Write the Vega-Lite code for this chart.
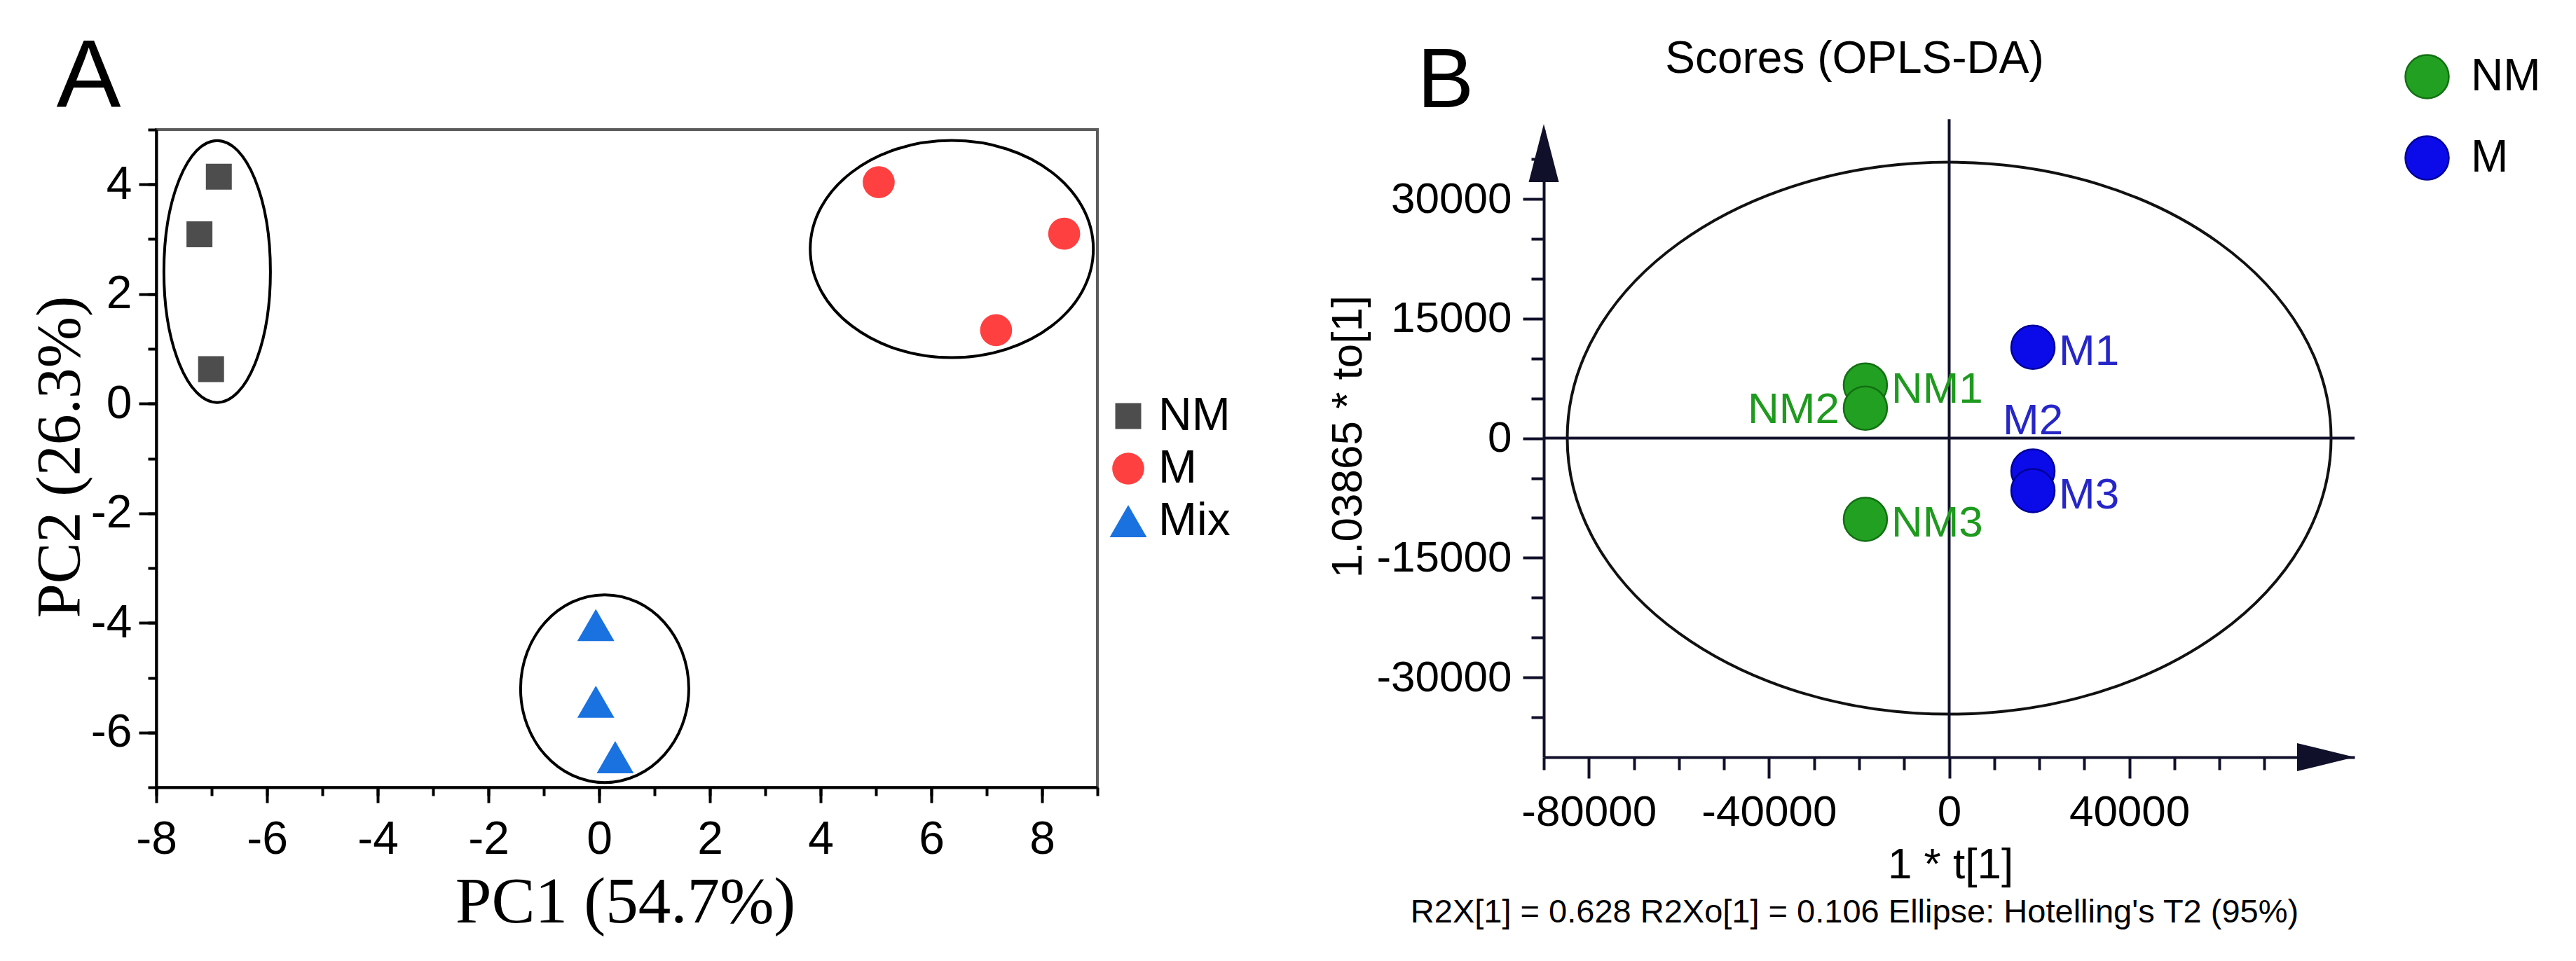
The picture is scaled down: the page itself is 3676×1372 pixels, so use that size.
{
  "$schema": "https://vega.github.io/schema/vega-lite/v6.json",
  "background": "white",
  "autosize": {"type": "pad"},
  "padding": {"left": 40, "top": 40, "right": 0, "bottom": 0},
  "bounds": "flush",
  "spacing": 637,
  "config": {"view": {"stroke": null}, "axis": {"grid": false, "labelLimit": 0}},
  "datasets": {
    "pointsA": [
      {"group": "NM", "PC1": -6.87, "PC2": 4.14},
      {"group": "NM", "PC1": -7.22, "PC2": 3.09},
      {"group": "NM", "PC1": -7.01, "PC2": 0.63},
      {"group": "M", "PC1": 5.05, "PC2": 4.04},
      {"group": "M", "PC1": 8.40, "PC2": 3.10},
      {"group": "M", "PC1": 7.17, "PC2": 1.34},
      {"group": "Mix", "PC1": -0.06, "PC2": -4.04},
      {"group": "Mix", "PC1": -0.06, "PC2": -5.44},
      {"group": "Mix", "PC1": 0.29, "PC2": -6.45}
    ],
    "ellipsesA": [
      {"group": "NM", "PC1": -6.90, "PC2": 2.41},
      {"group": "M", "PC1": 6.37, "PC2": 2.82},
      {"group": "Mix", "PC1": 0.10, "PC2": -5.2}
    ],
    "pointsB": [
      {"sample": "NM1", "group": "NM", "t": -18600, "to": 6670},
      {"sample": "NM2", "group": "NM", "t": -18600, "to": 3770},
      {"sample": "NM3", "group": "NM", "t": -18600, "to": -10180},
      {"sample": "M1", "group": "M", "t": 18600, "to": 11400},
      {"sample": "M2", "group": "M", "t": 18600, "to": -4120},
      {"sample": "M3", "group": "M", "t": 18600, "to": -6580}
    ]
  },
  "resolve": {"scale": {"color": "independent", "shape": "independent", "size": "independent", "fill": "independent", "stroke": "independent"}},
  "hconcat": [
    {
      "width": 1343,
      "height": 939,
      "view": {"stroke": "#5c5c5c", "strokeWidth": 4},
      "resolve": {"axis": {"x": "independent", "y": "independent"}},
      "layer": [
        {
          "data": {"name": "ellipsesA"},
          "transform": [{"filter": "datum.group === 'NM'"}],
          "mark": {"type": "point", "shape": "M0.76,0C0.76,1.0328,0.4197,1.87,0,1.87C-0.4197,1.87,-0.76,1.0328,-0.76,0C-0.76,-1.0328,-0.4197,-1.87,0,-1.87C0.4197,-1.87,0.76,-1.0328,0.76,0Z", "size": 40000, "filled": false, "color": "black", "strokeWidth": 4, "opacity": 1},
          "encoding": {
            "x": {"field": "PC1", "type": "quantitative", "scale": {"domain": [-8, 9], "nice": false, "zero": false},
              "axis": {"orient": "bottom", "values": [-8, -6, -4, -2, 0, 2, 4, 6, 8], "tickSize": 22, "tickWidth": 4, "tickColor": "black", "domainColor": "black", "domainWidth": 4, "labelFont": "Liberation Sans", "labelFontSize": 66, "labelColor": "black", "labelPadding": 20, "labelExpr": "'' + datum.value", "labelFlush": false, "labelOverlap": false,
                "title": "PC1 (54.7%)", "titleFont": "Liberation Serif", "titleFontSize": 93, "titleFontWeight": "normal", "titleColor": "black", "titleX": 669, "titleY": 192, "titleAlign": "center", "titleBaseline": "alphabetic"}},
            "y": {"field": "PC2", "type": "quantitative", "scale": {"domain": [-7, 5], "nice": false, "zero": false},
              "axis": {"orient": "left", "values": [-6, -4, -2, 0, 2, 4], "tickSize": 25, "tickWidth": 4, "tickColor": "black", "domainColor": "black", "domainWidth": 4, "labelFont": "Liberation Sans", "labelFontSize": 66, "labelColor": "black", "labelPadding": 10, "labelExpr": "'' + datum.value", "labelFlush": false, "labelOverlap": false,
                "title": "PC2 (26.3%)", "titleFont": "Liberation Serif", "titleFontSize": 88, "titleFontWeight": "normal", "titleColor": "black", "titleX": -111, "titleY": 467, "titleAngle": 270, "titleAlign": "center", "titleBaseline": "alphabetic"}}
          }
        },
        {
          "data": {"name": "ellipsesA"},
          "transform": [{"filter": "datum.group === 'M'"}],
          "mark": {"type": "point", "shape": "M2.02,0C2.02,0.8561,1.1156,1.55,0,1.55C-1.1156,1.55,-2.02,0.8561,-2.02,0C-2.02,-0.8561,-1.1156,-1.55,0,-1.55C1.1156,-1.55,2.02,-0.8561,2.02,0Z", "size": 40000, "filled": false, "color": "black", "strokeWidth": 4, "opacity": 1},
          "encoding": {
            "x": {"field": "PC1", "type": "quantitative", "scale": {"domain": [-8, 9], "nice": false, "zero": false},
              "axis": {"orient": "bottom", "values": [-8, -7, -6, -5, -4, -3, -2, -1, 0, 1, 2, 3, 4, 5, 6, 7, 8, 9], "tickSize": 12, "tickWidth": 4, "tickColor": "black", "domain": false, "labels": false, "title": null}},
            "y": {"field": "PC2", "type": "quantitative", "scale": {"domain": [-7, 5], "nice": false, "zero": false},
              "axis": {"orient": "left", "values": [-7, -6, -5, -4, -3, -2, -1, 0, 1, 2, 3, 4, 5], "tickSize": 12, "tickWidth": 4, "tickColor": "black", "domain": false, "labels": false, "title": null}}
          }
        },
        {
          "data": {"name": "ellipsesA"},
          "transform": [{"filter": "datum.group === 'Mix'"}],
          "mark": {"type": "point", "shape": "M1.2,0C1.2,0.7401,0.6628,1.34,0,1.34C-0.6628,1.34,-1.2,0.7401,-1.2,0C-1.2,-0.7401,-0.6628,-1.34,0,-1.34C0.6628,-1.34,1.2,-0.7401,1.2,0Z", "size": 40000, "filled": false, "color": "black", "strokeWidth": 4, "opacity": 1},
          "encoding": {
            "x": {"field": "PC1", "type": "quantitative", "scale": {"domain": [-8, 9], "nice": false, "zero": false},
              "axis": {"orient": "top", "domain": false, "ticks": false, "labels": false, "title": "A", "titleFont": "Liberation Sans", "titleFontSize": 138, "titleFontWeight": "normal", "titleColor": "black", "titleX": -143, "titleY": -33, "titleAngle": 0, "titleAlign": "left", "titleBaseline": "alphabetic"}},
            "y": {"field": "PC2", "type": "quantitative", "scale": {"domain": [-7, 5], "nice": false, "zero": false}, "axis": null}
          }
        },
        {
          "data": {"name": "pointsA"},
          "mark": {"type": "point", "filled": true, "opacity": 1, "strokeWidth": 0},
          "encoding": {
            "x": {"field": "PC1", "type": "quantitative", "scale": {"domain": [-8, 9], "nice": false, "zero": false}, "axis": null},
            "y": {"field": "PC2", "type": "quantitative", "scale": {"domain": [-7, 5], "nice": false, "zero": false}, "axis": null},
            "color": {"field": "group", "type": "nominal", "scale": {"domain": ["NM", "M", "Mix"], "range": ["#4d4d4d", "#ff4040", "#1a72e0"]},
              "legend": {"orient": "none", "legendX": 1354, "legendY": 376, "title": null, "labelFont": "Liberation Sans", "labelFontSize": 66, "labelColor": "black", "labelOffset": 10, "rowPadding": 9, "padding": 0}},
            "shape": {"field": "group", "type": "nominal", "scale": {"domain": ["NM", "M", "Mix"], "range": ["square", "circle", "triangle-up"]}},
            "size": {"field": "group", "type": "nominal", "scale": {"type": "point", "domain": ["NM", "M", "Mix"], "range": [1369, 2800]}}
          }
        }
      ]
    },
    {
      "width": 1157,
      "height": 896,
      "resolve": {"axis": {"x": "independent", "y": "independent"}},
      "layer": [
        {
          "data": {"values": [{"t": 0, "to": 0}]},
          "mark": {"type": "point", "shape": "M5.45,0C5.45,2.176,3.01,3.94,0,3.94C-3.01,3.94,-5.45,2.176,-5.45,0C-5.45,-2.176,-3.01,-3.94,0,-3.94C3.01,-3.94,5.45,-2.176,5.45,0Z", "size": 40000, "filled": false, "color": "#111111", "strokeWidth": 4, "opacity": 1},
          "encoding": {
            "x": {"field": "t", "type": "quantitative", "scale": {"domain": [-90000, 90000], "nice": false, "zero": false},
              "axis": {"orient": "bottom", "values": [-80000, -40000, 0, 40000], "tickSize": 30, "tickWidth": 4, "tickColor": "#10102a", "domainColor": "#10102a", "domainWidth": 4, "labelFont": "Liberation Sans", "labelFontSize": 62, "labelColor": "black", "labelPadding": 18, "labelExpr": "'' + datum.value", "labelFlush": false, "labelOverlap": false, "labelLimit": 0,
                "title": "1 * t[1]", "titleFont": "Liberation Sans", "titleFontSize": 62, "titleFontWeight": "normal", "titleColor": "black", "titleX": 580, "titleY": 172, "titleAlign": "center", "titleBaseline": "alphabetic"}},
            "y": {"field": "to", "type": "quantitative", "scale": {"domain": [-40000, 38700], "nice": false, "zero": false},
              "axis": {"orient": "left", "values": [-30000, -15000, 0, 15000, 30000], "tickSize": 30, "tickWidth": 4, "tickColor": "#10102a", "domainColor": "#10102a", "domainWidth": 4, "labelFont": "Liberation Sans", "labelFontSize": 62, "labelColor": "black", "labelPadding": 16, "labelExpr": "'' + datum.value", "labelFlush": false, "labelOverlap": false, "labelLimit": 0,
                "title": "1.03865 * to[1]", "titleFont": "Liberation Sans", "titleFontSize": 62, "titleFontWeight": "normal", "titleColor": "black", "titleX": -261, "titleY": 438, "titleAngle": 270, "titleAlign": "center", "titleBaseline": "alphabetic"}}
          }
        },
        {
          "data": {"values": [{"t": 0, "to": -40000, "to2": 40000}]},
          "mark": {"type": "rule", "color": "#10102a", "strokeWidth": 4},
          "encoding": {
            "x": {"field": "t", "type": "quantitative", "scale": {"domain": [-90000, 90000], "nice": false, "zero": false},
              "axis": {"orient": "bottom", "values": [-90000, -70000, -60000, -50000, -30000, -20000, -10000, 10000, 20000, 30000, 50000, 60000, 70000], "tickSize": 18, "tickWidth": 4, "tickColor": "#10102a", "domain": false, "labels": false, "title": null}},
            "y": {"field": "to", "type": "quantitative", "scale": {"domain": [-40000, 38700], "nice": false, "zero": false},
              "axis": {"orient": "left", "values": [-35000, -25000, -20000, -10000, -5000, 5000, 10000, 20000, 25000, 35000], "tickSize": 18, "tickWidth": 4, "tickColor": "#10102a", "domain": false, "labels": false, "title": null}},
            "y2": {"field": "to2"}
          }
        },
        {
          "data": {"values": [{"t": -90000, "t2": 90000, "to": 0}]},
          "mark": {"type": "rule", "color": "#10102a", "strokeWidth": 4},
          "encoding": {
            "x": {"field": "t", "type": "quantitative", "scale": {"domain": [-90000, 90000], "nice": false, "zero": false},
              "axis": {"orient": "top", "domain": false, "ticks": false, "labels": false, "title": "B", "titleFont": "Liberation Sans", "titleFontSize": 121, "titleFontWeight": "normal", "titleColor": "black", "titleX": -181, "titleY": -33, "titleAngle": 0, "titleAlign": "left", "titleBaseline": "alphabetic"}},
            "x2": {"field": "t2"},
            "y": {"field": "to", "type": "quantitative", "scale": {"domain": [-40000, 38700], "nice": false, "zero": false}, "axis": null}
          }
        },
        {
          "data": {"values": [{"t": -90000, "to": 39400}]},
          "mark": {"type": "point", "shape": "M0,0L0.215,0.83L-0.215,0.83Z", "size": 40000, "filled": true, "color": "#10102a", "opacity": 1, "strokeWidth": 0},
          "encoding": {
            "x": {"field": "t", "type": "quantitative", "scale": {"domain": [-90000, 90000], "nice": false, "zero": false},
              "axis": {"orient": "top", "domain": false, "ticks": false, "labels": false, "title": "Scores (OPLS-DA)", "titleFont": "Liberation Sans", "titleFontSize": 64, "titleFontWeight": "normal", "titleColor": "black", "titleX": 443, "titleY": -82, "titleAngle": 0, "titleAlign": "center", "titleBaseline": "alphabetic"}},
            "y": {"field": "to", "type": "quantitative", "scale": {"domain": [-40000, 38700], "nice": false, "zero": false}, "axis": null}
          }
        },
        {
          "data": {"values": [{"t": 90000, "to": -40000}]},
          "mark": {"type": "point", "shape": "M0,0L-0.82,-0.2L-0.82,0.2Z", "size": 40000, "filled": true, "color": "#10102a", "opacity": 1, "strokeWidth": 0},
          "encoding": {
            "x": {"field": "t", "type": "quantitative", "scale": {"domain": [-90000, 90000], "nice": false, "zero": false},
              "axis": {"orient": "bottom", "domain": false, "ticks": false, "labels": false, "title": "R2X[1] = 0.628 R2Xo[1] = 0.106 Ellipse: Hotelling's T2 (95%)", "titleFont": "Liberation Sans", "titleFontSize": 47, "titleFontWeight": "normal", "titleColor": "black", "titleX": 443, "titleY": 235, "titleAngle": 0, "titleAlign": "center", "titleBaseline": "alphabetic", "titleLimit": 0}},
            "y": {"field": "to", "type": "quantitative", "scale": {"domain": [-40000, 38700], "nice": false, "zero": false}, "axis": null}
          }
        },
        {
          "data": {"name": "pointsB"},
          "mark": {"type": "point", "filled": true, "opacity": 1, "size": 3844, "strokeWidth": 2.5},
          "encoding": {
            "x": {"field": "t", "type": "quantitative", "scale": {"domain": [-90000, 90000], "nice": false, "zero": false}, "axis": null},
            "y": {"field": "to", "type": "quantitative", "scale": {"domain": [-40000, 38700], "nice": false, "zero": false}, "axis": null},
            "fill": {"field": "group", "type": "nominal", "scale": {"domain": ["NM", "M"], "range": ["#22a022", "#0b0bea"]},
              "legend": {"orient": "none", "legendX": 1228, "legendY": -108, "title": null, "symbolSize": 3844, "symbolStrokeWidth": 2.5, "labelFont": "Liberation Sans", "labelFontSize": 64, "labelColor": "black", "labelOffset": 30, "rowPadding": 43, "padding": 0}},
            "stroke": {"field": "group", "type": "nominal", "scale": {"domain": ["NM", "M"], "range": ["#127012", "#00009a"]}}
          }
        },
        {
          "data": {"name": "pointsB"},
          "transform": [{"filter": {"field": "sample", "oneOf": ["NM1", "NM3", "M1", "M3"]}}],
          "mark": {"type": "text", "font": "Liberation Sans", "fontSize": 62, "align": "left", "baseline": "middle", "dx": 37, "dy": 6},
          "encoding": {
            "x": {"field": "t", "type": "quantitative", "scale": {"domain": [-90000, 90000], "nice": false, "zero": false}, "axis": null},
            "y": {"field": "to", "type": "quantitative", "scale": {"domain": [-40000, 38700], "nice": false, "zero": false}, "axis": null},
            "text": {"field": "sample"},
            "color": {"field": "group", "type": "nominal", "scale": {"domain": ["NM", "M"], "range": ["#1e9a1e", "#2626c8"]}, "legend": null}
          }
        },
        {
          "data": {"name": "pointsB"},
          "transform": [{"filter": "datum.sample === 'NM2'"}],
          "mark": {"type": "text", "font": "Liberation Sans", "fontSize": 62, "align": "right", "baseline": "middle", "dx": -37, "dy": 2},
          "encoding": {
            "x": {"field": "t", "type": "quantitative", "scale": {"domain": [-90000, 90000], "nice": false, "zero": false}, "axis": null},
            "y": {"field": "to", "type": "quantitative", "scale": {"domain": [-40000, 38700], "nice": false, "zero": false}, "axis": null},
            "text": {"field": "sample"},
            "color": {"field": "group", "type": "nominal", "scale": {"domain": ["NM", "M"], "range": ["#1e9a1e", "#2626c8"]}, "legend": null}
          }
        },
        {
          "data": {"name": "pointsB"},
          "transform": [{"filter": "datum.sample === 'M2'"}],
          "mark": {"type": "text", "font": "Liberation Sans", "fontSize": 62, "align": "center", "baseline": "middle", "dx": 0, "dy": -72},
          "encoding": {
            "x": {"field": "t", "type": "quantitative", "scale": {"domain": [-90000, 90000], "nice": false, "zero": false}, "axis": null},
            "y": {"field": "to", "type": "quantitative", "scale": {"domain": [-40000, 38700], "nice": false, "zero": false}, "axis": null},
            "text": {"field": "sample"},
            "color": {"field": "group", "type": "nominal", "scale": {"domain": ["NM", "M"], "range": ["#1e9a1e", "#2626c8"]}, "legend": null}
          }
        }
      ]
    }
  ]
}
